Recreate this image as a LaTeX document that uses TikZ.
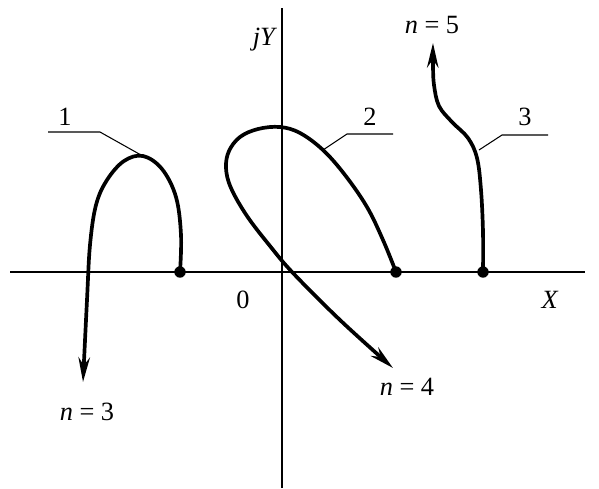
\documentclass[tikz,border=0pt]{standalone}
\usepackage{fontspec}
\setmainfont{Liberation Serif}
\usepackage{tikz}
\usetikzlibrary{arrows.meta,positioning}

\begin{document}
\begin{tikzpicture}[
  x=0.02cm, y=-0.02cm,
  axis/.style={line width=0.7pt},
  locus/.style={line width=2.1pt,line cap=round},
  locusarrow/.style={locus,-{Stealth[length=14pt,width=6.5pt]}},
  leader/.style={line width=0.6pt},
  dot/.style={circle,fill=black,inner sep=0pt,minimum size=6.5pt},
  lbl/.style={font=\fontsize{15}{17}\selectfont,inner sep=1pt}
]
  \useasboundingbox (0,0) rectangle (599,488);

  % axes
  \coordinate (xl) at (10,272);
  \coordinate (xr) at (585,272);
  \coordinate (yb) at (282,488);
  \coordinate (yt) at (282,8);
  \draw[axis] (xl) -- (xr);
  \draw[axis] (yb) -- (yt);
  \node[lbl] (jy) at (265,40) {\textit{jY}};
  \node[lbl] (orig) at (243,300) {0};
  \node[lbl] (xlab) at (550,300) {\textit{X}};

  % start points on the real axis
  \node[dot] (s1) at (180,272) {};
  \node[dot] (s2) at (396,272) {};
  \node[dot] (s3) at (483,272) {};

  % end labels
  \node[lbl] (n3) at (87,412) {\textit{n} = 3};
  \node[lbl] (n4) at (407,387) {\textit{n} = 4};
  \node[lbl] (n5) at (432,25) {\textit{n} = 5};

  % curve 1
  \coordinate (e1) at (83,382);
  \draw[locusarrow] plot[smooth,tension=0.6] coordinates {
    (180,272) (181,235) (176,197) (162,169) (143,156) (124,161)
    (107,180) (96,205) (90,245) (87,300) (83,382)};

  % curve 2
  \coordinate (e2) at (393,368);
  \draw[locusarrow] plot[smooth,tension=0.6] coordinates {
    (396,272) (383,240) (367,207) (345,175) (323,150) (300,133)
    (280,127) (258,129) (240,137) (229,151) (226,168) (231,188)
    (247,216) (270,246) (293,273) (340,320) (393,368)};

  % curve 3
  \coordinate (e3) at (433,43);
  \draw[locusarrow] plot[smooth,tension=0.6] coordinates {
    (483,272) (483,232) (481,190) (477,158) (468,138) (452,122)
    (439,106) (434,85) (433,65) (433,43)};

  % leaders
  \coordinate (c1) at (141,155);
  \coordinate (c2) at (323,150);
  \coordinate (c3) at (479,150);
  \draw[leader] (c1) -- (100,132) -- (48,132);
  \draw[leader] (c2) -- (347,134) -- (393,134);
  \draw[leader] (c3) -- (502,135) -- (548,135);
  \node[lbl] (l1) at (65,117) {1};
  \node[lbl] (l2) at (370,117) {2};
  \node[lbl] (l3) at (525,117) {3};
\end{tikzpicture}
\end{document}
